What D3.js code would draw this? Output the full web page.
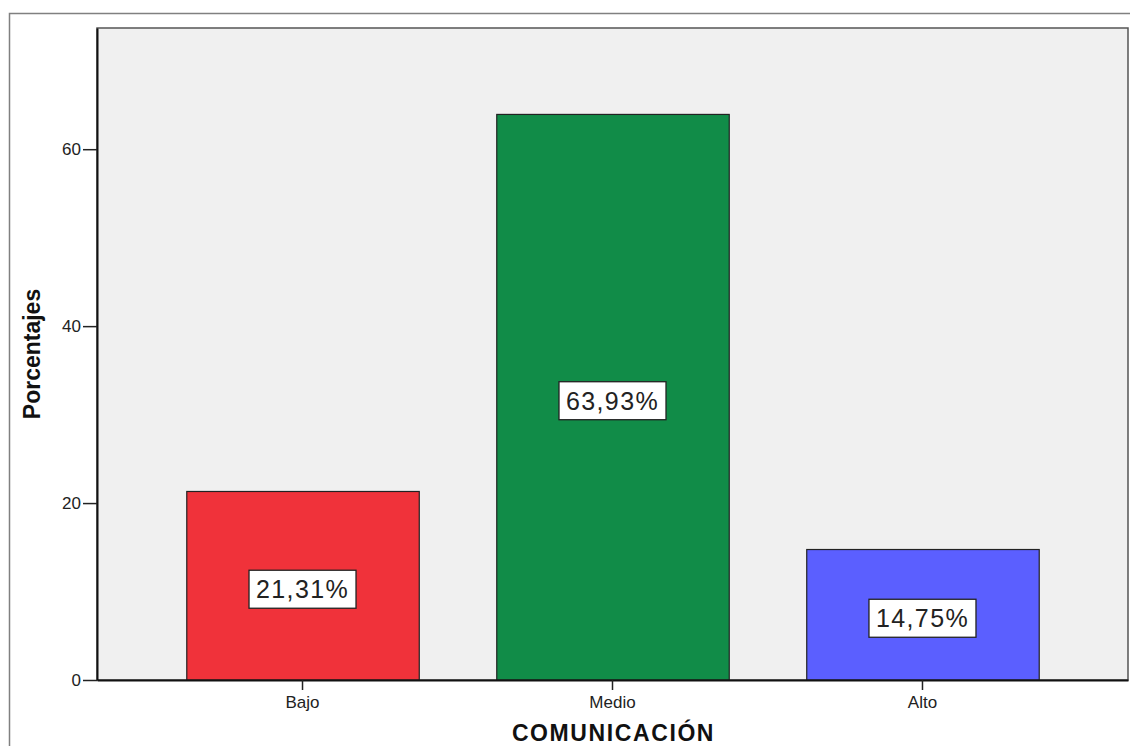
<!DOCTYPE html>
<html>
<head>
<meta charset="utf-8">
<script src="https://cdn.jsdelivr.net/npm/d3@7"></script>
<style>
  html, body { margin: 0; padding: 0; background: #ffffff; }
  svg { display: block; }
</style>
</head>
<body>
<svg id="chart" width="1130" height="746"></svg>
<script>
// Level of communication: share of respondents per category
const categories = ["Bajo", "Medio", "Alto"];
const percentages = [21.31, 63.93, 14.75];
const barColors = ["#F0323A", "#118C48", "#5B5FFF"];
const yTicks = [0, 20, 40, 60];
const xTitle = "COMUNICACIÓN";
const yTitle = "Porcentajes";

const svg = d3.select("#chart");
const plot = { left: 97, top: 28, right: 1128, bottom: 680 };

// outer frame
svg.append("rect")
  .attr("x", 9.5).attr("y", 13.5)
  .attr("width", 1140).attr("height", 760)
  .attr("fill", "#ffffff")
  .attr("stroke", "#808080").attr("stroke-width", 1.5);

const x = d3.scaleBand()
  .domain(categories)
  .range([plot.left, plot.right])
  .paddingInner(0.25)
  .paddingOuter(0.288);

const y = d3.scaleLinear()
  .domain([0, 73.7])
  .range([plot.bottom, plot.top]);

// plot background
svg.append("rect")
  .attr("x", plot.left).attr("y", plot.top)
  .attr("width", plot.right - plot.left)
  .attr("height", plot.bottom - plot.top)
  .attr("fill", "#F0F0F0")
  .attr("stroke", "#555555").attr("stroke-width", 1.5);

// bars
svg.append("g").selectAll("rect")
  .data(categories)
  .join("rect")
  .attr("x", d => x(d) + 0.5)
  .attr("y", (d, i) => y(percentages[i]))
  .attr("width", x.bandwidth())
  .attr("height", (d, i) => y(0) - y(percentages[i]))
  .attr("fill", (d, i) => barColors[i])
  .attr("stroke", "#222222").attr("stroke-width", 1.2);

// value labels in boxes
const labels = svg.append("g").selectAll("g")
  .data(categories)
  .join("g")
  .attr("transform", (d, i) => {
    const cx = x(d) + x.bandwidth() / 2;
    const cy = (y(percentages[i]) + y(0)) / 2 + 3.5;
    return `translate(${cx},${cy})`;
  });

labels.append("rect")
  .attr("x", -53.5).attr("y", -19)
  .attr("width", 107).attr("height", 38)
  .attr("fill", "#ffffff")
  .attr("stroke", "#222222").attr("stroke-width", 1.3);

labels.append("text")
  .attr("text-anchor", "middle")
  .attr("y", 9)
  .attr("font-family", "'Liberation Sans', Arial, sans-serif")
  .attr("font-size", 25)
  .attr("letter-spacing", 1.4)
  .attr("fill", "#222222")
  .text((d, i) => d3.format(".2f")(percentages[i]).replace(".", ",") + "%");

// y axis
const yAxis = svg.append("g")
  .attr("transform", `translate(${plot.left},0)`)
  .call(d3.axisLeft(y).tickValues(yTicks).tickSize(14).tickSizeOuter(0).tickPadding(2).tickFormat(d3.format("d")));
yAxis.select(".domain").attr("stroke", "#111111").attr("stroke-width", 2);
yAxis.selectAll(".tick line").attr("stroke", "#222222").attr("stroke-width", 1.5);
yAxis.selectAll(".tick text")
  .attr("font-family", "'Liberation Sans', Arial, sans-serif")
  .attr("font-size", 17).attr("fill", "#222222");

// x axis
const xAxis = svg.append("g")
  .attr("transform", `translate(0,${plot.bottom})`)
  .call(d3.axisBottom(x).tickSize(10).tickPadding(6).tickSizeOuter(0));
xAxis.select(".domain").attr("stroke", "#111111").attr("stroke-width", 2);
xAxis.selectAll(".tick line").attr("stroke", "#222222").attr("stroke-width", 1.5);
xAxis.selectAll(".tick text")
  .attr("font-family", "'Liberation Sans', Arial, sans-serif")
  .attr("font-size", 17).attr("fill", "#222222");

// axis titles
svg.append("text")
  .attr("x", (plot.left + plot.right) / 2 + 1)
  .attr("y", 741)
  .attr("text-anchor", "middle")
  .attr("font-family", "'Liberation Sans', Arial, sans-serif")
  .attr("font-weight", "bold")
  .attr("font-size", 23)
  .attr("letter-spacing", 1.6)
  .attr("fill", "#111111")
  .text(xTitle);

svg.append("text")
  .attr("transform", "translate(40,354) rotate(-90)")
  .attr("text-anchor", "middle")
  .attr("font-family", "'Liberation Sans', Arial, sans-serif")
  .attr("font-weight", "bold")
  .attr("font-size", 23)
  .attr("fill", "#111111")
  .text(yTitle);
</script>
</body>
</html>
